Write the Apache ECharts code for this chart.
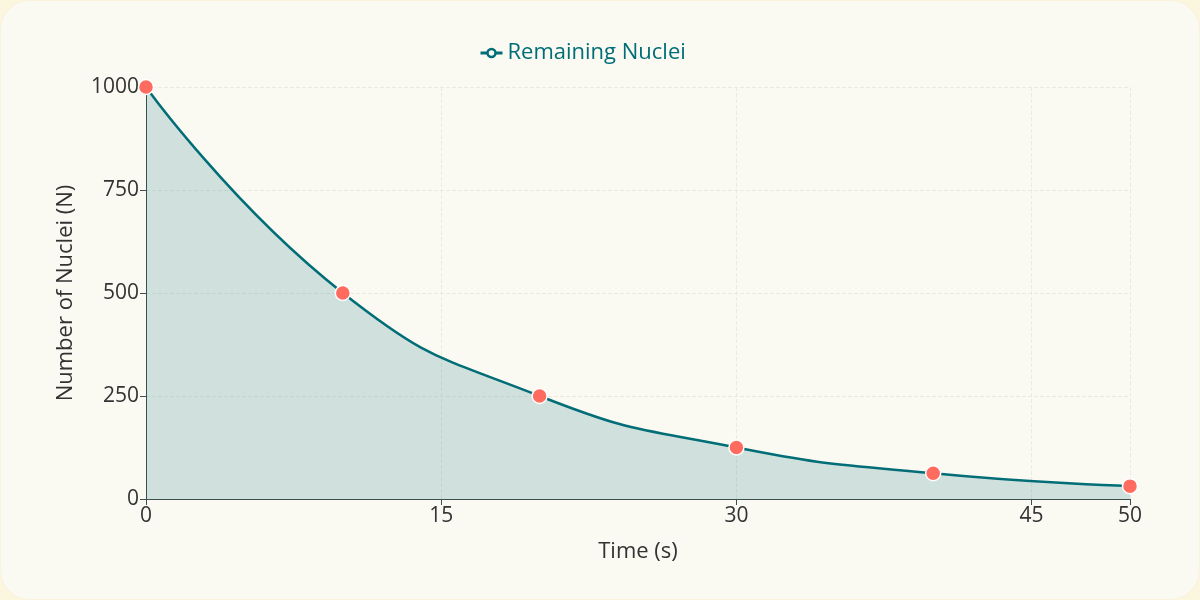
<!DOCTYPE html>
<html>
<head>
<meta charset="utf-8">
<script src="https://cdn.jsdelivr.net/npm/echarts@6/dist/echarts.min.js"></script>
<style>
  html, body { margin: 0; padding: 0; background: #fdf6df; }
  #card {
    width: 1198px; height: 598px; margin: 1px;
    background: #faf9f2; border-radius: 28px;
    box-shadow: 0 0 2px rgba(0,0,0,0.06);
  }
  #chart { width: 1198px; height: 598px; }
</style>
</head>
<body>
<div id="card"><div id="chart"></div></div>
<script>
// time in seconds and remaining nuclei
const times = [0, 10, 20, 30, 40, 50];
const nuclei = [1000, 500, 250, 125, 62.5, 31.25];
const seriesName = 'Remaining Nuclei';

const chart = echarts.init(document.getElementById('chart'));
const font = '"Open Sans", "Noto Sans", sans-serif';

chart.setOption({
  backgroundColor: 'transparent',
  textStyle: { fontFamily: font },
  legend: {
    top: 36,
    left: 473,
    itemWidth: 22,
    itemHeight: 10,
    itemGap: 6,
    textStyle: { color: '#006d77', fontSize: 22, fontFamily: font },
    data: [{
      name: seriesName,
      itemStyle: { color: '#faf9f2', borderColor: '#006d77', borderWidth: 2.5 },
      lineStyle: { color: '#006d77', width: 3 }
    }]
  },
  grid: { left: 145, right: 69, top: 86, bottom: 100 },
  xAxis: {
    type: 'value',
    min: 0,
    max: 50,
    interval: 15,
    name: 'Time (s)',
    nameLocation: 'middle',
    nameGap: 42,
    nameTextStyle: { color: '#333', fontSize: 22 },
    axisLine: { lineStyle: { color: '#3d4f4f' } },
    axisTick: { show: true, length: 6, lineStyle: { color: '#3d4f4f' } },
    axisLabel: { color: '#333', fontSize: 21, showMaxLabel: true, margin: 7 },
    splitLine: { show: true, lineStyle: { color: '#ebe9e0', type: 'dashed' } }
  },
  yAxis: {
    type: 'value',
    min: 0,
    max: 1000,
    interval: 250,
    name: 'Number of Nuclei (N)',
    nameLocation: 'middle',
    nameGap: 69,
    nameTextStyle: { color: '#333', fontSize: 22 },
    axisLine: { show: true, lineStyle: { color: '#3d4f4f' } },
    axisTick: { show: true, length: 6, lineStyle: { color: '#3d4f4f' } },
    axisLabel: { color: '#333', fontSize: 21, margin: 7, formatter: v => String(v) },
    splitLine: { show: true, lineStyle: { color: '#ebe9e0', type: 'dashed' } }
  },
  series: [{
    name: seriesName,
    type: 'line',
    data: times.map((t, i) => [t, nuclei[i]]),
    smooth: true,
    symbol: 'circle',
    symbolSize: 15,
    color: '#006d77',
    lineStyle: { color: '#006d77', width: 2.5 },
    itemStyle: { color: '#ff6b5e', borderColor: '#ffffff', borderWidth: 1.5 },
    areaStyle: { color: 'rgba(0,109,119,0.24)' }
  }]
});
</script>
</body>
</html>
